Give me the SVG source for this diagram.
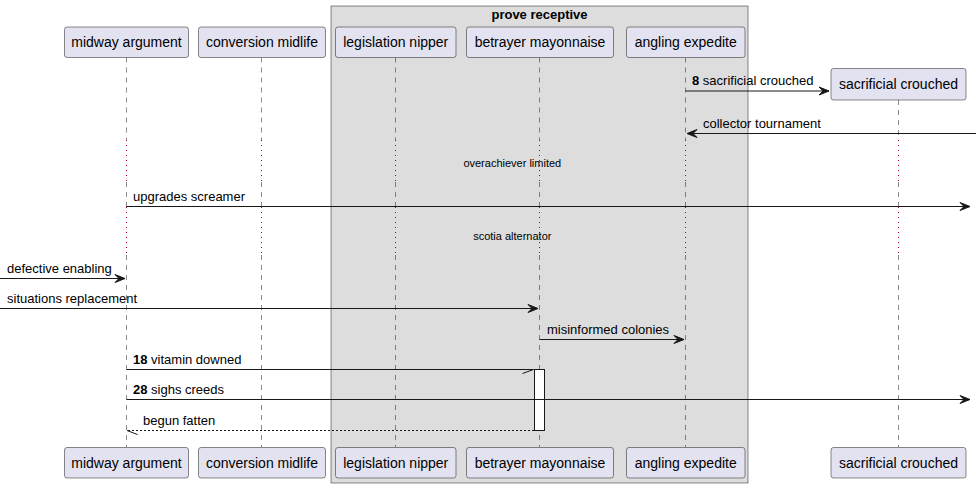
<svg xmlns="http://www.w3.org/2000/svg" width="976" height="488" viewBox="0 0 976 488">
<style>
.head{fill:#E2E2F0;stroke:#181818;stroke-width:0.5}
.ht{font-family:"Liberation Sans",Arial,sans-serif;font-size:14px;fill:#000;text-anchor:middle}
.life{stroke:#181818;stroke-width:0.5;stroke-dasharray:5,5;fill:none}
.delay{stroke:#A80036;stroke-width:1;stroke-dasharray:1,4;fill:none}
.msg{stroke:#181818;stroke-width:1;fill:none}
.ret{stroke:#181818;stroke-width:1;stroke-dasharray:2,2;fill:none}
.ah{fill:#181818;stroke:#181818;stroke-width:1}
.mt{font-family:"Liberation Sans",Arial,sans-serif;font-size:13px;fill:#000}
.dt{font-family:"Liberation Sans",Arial,sans-serif;font-size:11px;fill:#000;text-anchor:middle}
.b{font-weight:bold}
</style>
<g id="box-prove-receptive">
<rect x="331" y="6" width="417" height="477" fill="#DDDDDD" stroke="#181818" stroke-width="0.5"/>
<text x="539.5" y="18.5" font-family="Liberation Sans,Arial,sans-serif" font-size="13" font-weight="bold" text-anchor="middle">prove receptive</text>
</g>
<g id="lifelines">
<path class="life" d="M126.5,57.5V140M126.5,182V207M126.5,255V447"/>
<path class="delay" d="M126.5,140V182M126.5,207V255"/>
<path class="life" d="M261.5,57.5V140M261.5,182V207M261.5,255V447"/>
<path class="delay" d="M261.5,140V182M261.5,207V255"/>
<path class="life" d="M395.5,57.5V140M395.5,182V207M395.5,255V447"/>
<path class="delay" d="M395.5,140V182M395.5,207V255"/>
<path class="life" d="M539.5,57.5V140M539.5,182V207M539.5,255V447"/>
<path class="delay" d="M539.5,140V182M539.5,207V255"/>
<path class="life" d="M685.5,57.5V140M685.5,182V207M685.5,255V447"/>
<path class="delay" d="M685.5,140V182M685.5,207V255"/>
<path class="life" d="M898.5,100V140M898.5,182V207M898.5,255V447"/>
<path class="delay" d="M898.5,140V182M898.5,207V255"/>
</g>
<g id="midway-argument">
<rect class="head" x="64.5" y="27" width="124" height="30.5" rx="2.5"/>
<text class="ht" x="126.5" y="47">midway argument</text>
<rect class="head" x="64.5" y="447.5" width="124" height="30.5" rx="2.5"/>
<text class="ht" x="126.5" y="467.5">midway argument</text>
</g>
<g id="conversion-midlife">
<rect class="head" x="198.5" y="27" width="127" height="30.5" rx="2.5"/>
<text class="ht" x="262" y="47">conversion midlife</text>
<rect class="head" x="198.5" y="447.5" width="127" height="30.5" rx="2.5"/>
<text class="ht" x="262" y="467.5">conversion midlife</text>
</g>
<g id="legislation-nipper">
<rect class="head" x="335.5" y="27" width="120.5" height="30.5" rx="2.5"/>
<text class="ht" x="395.75" y="47">legislation nipper</text>
<rect class="head" x="335.5" y="447.5" width="120.5" height="30.5" rx="2.5"/>
<text class="ht" x="395.75" y="467.5">legislation nipper</text>
</g>
<g id="betrayer-mayonnaise">
<rect class="head" x="466.5" y="27" width="147" height="30.5" rx="2.5"/>
<text class="ht" x="540" y="47">betrayer mayonnaise</text>
<rect class="head" x="466.5" y="447.5" width="147" height="30.5" rx="2.5"/>
<text class="ht" x="540" y="467.5">betrayer mayonnaise</text>
<rect x="534.5" y="369.5" width="10" height="61" fill="#FFFFFF" stroke="#181818" stroke-width="1"/>
</g>
<g id="angling-expedite">
<rect class="head" x="626.5" y="27" width="118.5" height="30.5" rx="2.5"/>
<text class="ht" x="685.75" y="47">angling expedite</text>
<rect class="head" x="626.5" y="447.5" width="118.5" height="30.5" rx="2.5"/>
<text class="ht" x="685.75" y="467.5">angling expedite</text>
</g>
<g id="sacrificial-crouched">
<rect class="head" x="831" y="68.5" width="135" height="31.5" rx="2.5"/>
<text class="ht" x="898.5" y="89">sacrificial crouched</text>
<rect class="head" x="831" y="447.5" width="135" height="30.5" rx="2.5"/>
<text class="ht" x="898.5" y="467.5">sacrificial crouched</text>
</g>
<g id="connectors">
<line class="msg" x1="685.5" y1="91" x2="829" y2="91"/>
<polygon class="ah" points="819,87 829,91 819,95 823,91"/>
<text class="mt" x="692" y="85"><tspan class="b">8</tspan> sacrificial crouched</text>

<line class="msg" x1="976" y1="133.5" x2="687" y2="133.5"/>
<polygon class="ah" points="697,129.5 687,133.5 697,137.5 693,133.5"/>
<text class="mt" x="703" y="127.5">collector tournament</text>

<text class="dt" x="512.3" y="167">overachiever limited</text>

<line class="msg" x1="126.5" y1="206.5" x2="970" y2="206.5"/>
<polygon class="ah" points="960,202.5 970,206.5 960,210.5 964,206.5"/>
<text class="mt" x="133" y="200.5">upgrades screamer</text>

<text class="dt" x="512.3" y="240">scotia alternator</text>

<line class="msg" x1="0" y1="278.5" x2="125" y2="278.5"/>
<polygon class="ah" points="115,274.5 125,278.5 115,282.5 119,278.5"/>
<text class="mt" x="7" y="272.5">defective enabling</text>

<line class="msg" x1="0" y1="308.5" x2="538" y2="308.5"/>
<polygon class="ah" points="528,304.5 538,308.5 528,312.5 532,308.5"/>
<text class="mt" x="7" y="302.5">situations replacement</text>

<line class="msg" x1="539.5" y1="339.5" x2="684" y2="339.5"/>
<polygon class="ah" points="674,335.5 684,339.5 674,343.5 678,339.5"/>
<text class="mt" x="547" y="333.5">misinformed colonies</text>

<line class="msg" x1="126.5" y1="369.5" x2="533.5" y2="369.5"/>
<line class="msg" x1="533.5" y1="369.5" x2="522.5" y2="373.5"/>
<text class="mt" x="133" y="363.5"><tspan class="b">18</tspan> vitamin downed</text>

<line class="msg" x1="126.5" y1="399.5" x2="970" y2="399.5"/>
<polygon class="ah" points="960,395.5 970,399.5 960,403.5 964,399.5"/>
<text class="mt" x="133" y="393.5"><tspan class="b">28</tspan> sighs creeds</text>

<line class="ret" x1="534" y1="430.5" x2="127" y2="430.5"/>
<line class="msg" x1="127" y1="430.5" x2="137.5" y2="434.5"/>
<text class="mt" x="143" y="424.5">begun fatten</text>
</g>
</svg>
